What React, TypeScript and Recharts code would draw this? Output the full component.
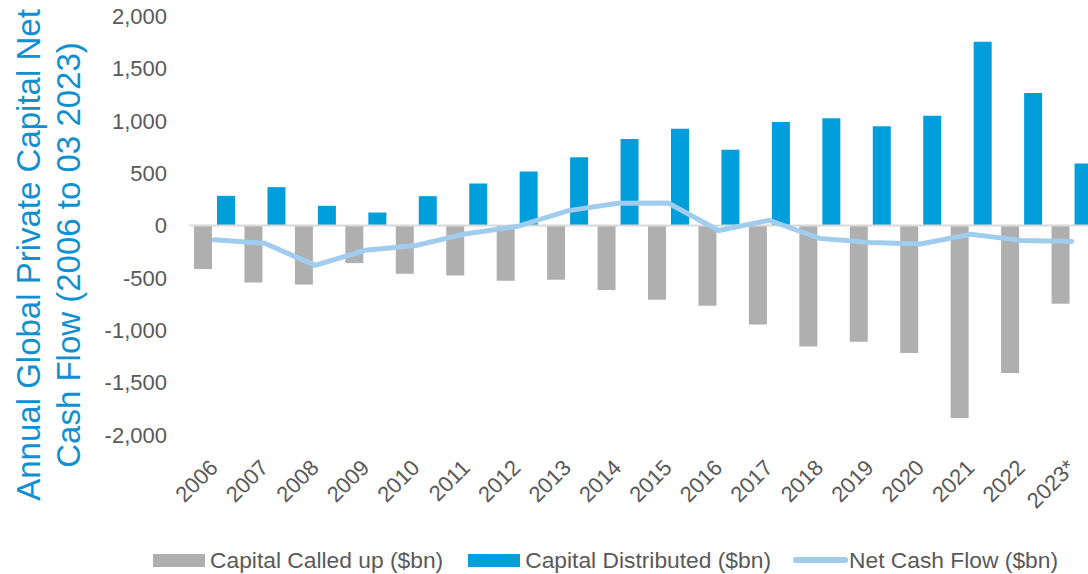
import React from 'react';
import {
  ComposedChart,
  Bar,
  Line,
  XAxis,
  YAxis,
  ReferenceLine,
  Legend,
} from 'recharts';

const years = [
  '2006', '2007', '2008', '2009', '2010', '2011', '2012', '2013', '2014',
  '2015', '2016', '2017', '2018', '2019', '2020', '2021', '2022', '2023*',
];
const calledUp = [
  -416, -544, -563, -359, -461, -477, -528, -518, -615,
  -709, -766, -944, -1154, -1110, -1218, -1838, -1409, -747,
];
const distributed = [
  283, 366, 188, 124, 280, 401, 516, 652, 826,
  923, 722, 989, 1025, 948, 1047, 1753, 1266, 592,
];
const netFlow = [
  -137, -170, -380, -237, -190, -78, -10, 140, 212,
  215, -48, 50, -123, -162, -176, -83, -143, -153,
];
const yTicks = [-2000, -1500, -1000, -500, 0, 500, 1000, 1500, 2000];

const seriesNames = ['Capital Called up ($bn)', 'Capital Distributed ($bn)', 'Net Cash Flow ($bn)'];
const GREY = '#AEAFAE';
const BLUE = '#009FDC';
const LIGHT = '#A0CCEE';
const TEXT = '#595959';
const TITLE = '#1090D0';

const data = years.map((year, i) => ({
  year,
  calledUp: calledUp[i],
  distributed: distributed[i],
  net: netFlow[i],
}));

const XTick = (props: any) => {
  const { x, y, payload } = props;
  const tx = x + 5;
  const ty = y + 34;
  return (
    <text
      x={tx}
      y={ty}
      transform={`rotate(-45 ${tx} ${ty})`}
      textAnchor="end"
      fill={TEXT}
      fontSize={22}
    >
      {payload.value}
    </text>
  );
};

const AxisTitle = () => (
  <g>
    <text
      x={40}
      y={255}
      transform="rotate(-90 40 255)"
      textAnchor="middle"
      fill={TITLE}
      fontSize={33}
    >
      Annual Global Private Capital Net
    </text>
    <text
      x={80}
      y={255}
      transform="rotate(-90 80 255)"
      textAnchor="middle"
      fill={TITLE}
      fontSize={33}
    >
      Cash Flow (2006 to 03 2023)
    </text>
  </g>
);

const LegendBox = () => {
  const swatch = (i: number) =>
    i === 2 ? (
      <span style={{ display: 'inline-block', width: 55, height: 6, borderRadius: 3, background: LIGHT }} />
    ) : (
      <span style={{ display: 'inline-block', width: 52, height: 13, background: i === 0 ? GREY : BLUE }} />
    );
  return (
    <div
      style={{
        height: 34,
        boxSizing: 'border-box',
        paddingLeft: 153,
        paddingTop: 6,
        display: 'flex',
        alignItems: 'center',
        color: TEXT,
        fontSize: 22.8,
        whiteSpace: 'nowrap',
      }}
    >
      {seriesNames.map((name, i) => (
        <div key={name} style={{ display: 'flex', alignItems: 'center', marginRight: i === 0 ? 25 : 22 }}>
          {swatch(i)}
          <span style={{ marginLeft: i === 2 ? 1 : 5 }}>{name}</span>
        </div>
      ))}
    </div>
  );
};

export default function App() {
  return (
    <div
      style={{
        position: 'absolute',
        left: 0,
        top: 0,
        width: 1088,
        height: 574,
        overflow: 'hidden',
        background: '#fff',
        fontFamily: '"Liberation Sans", Arial, sans-serif',
      }}
    >
      <ComposedChart
        width={1097}
        height={574}
        data={data}
        margin={{ top: 16, right: 0, left: 0, bottom: 0 }}
        barSize={18}
        barGap={5}
      >
        <XAxis
          dataKey="year"
          height={105}
          axisLine={false}
          tickLine={false}
          tickSize={0}
          tickMargin={0}
          interval={0}
          tick={<XTick />}
        />
        <YAxis
          width={189}
          domain={[-2000, 2000]}
          ticks={yTicks}
          axisLine={false}
          tickLine={false}
          tickSize={0}
          tickMargin={22}
          tick={{ fill: TEXT, fontSize: 22 }}
          tickFormatter={(v: number) => v.toLocaleString('en-US')}
          label={{ content: () => <AxisTitle /> }}
        />
        <Legend verticalAlign="bottom" align="left" height={34} content={() => <LegendBox />} />
        <Bar dataKey="calledUp" name={seriesNames[0]} fill={GREY} isAnimationActive={false} />
        <Bar dataKey="distributed" name={seriesNames[1]} fill={BLUE} isAnimationActive={false} />
        <ReferenceLine y={0} stroke="#D9D9D9" strokeWidth={2} />
        <Line
          type="linear"
          dataKey="net"
          name={seriesNames[2]}
          stroke={LIGHT}
          strokeWidth={5}
          strokeLinecap="round"
          dot={false}
          activeDot={false}
          isAnimationActive={false}
        />
      </ComposedChart>
    </div>
  );
}
